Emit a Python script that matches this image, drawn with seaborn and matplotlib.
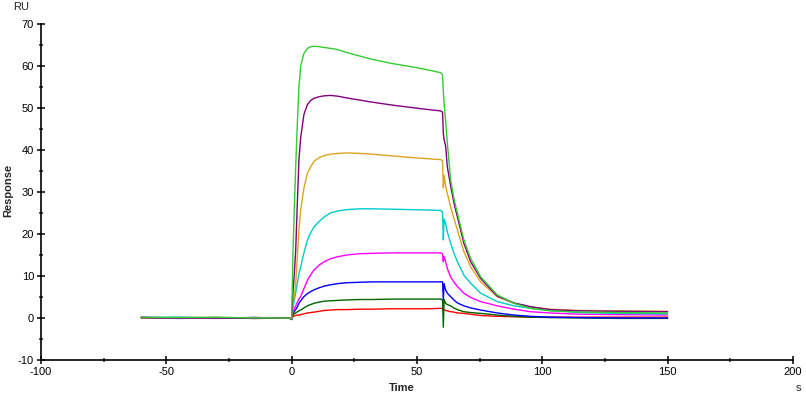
import numpy as np
import pandas as pd
import matplotlib
matplotlib.use("Agg")
import matplotlib.pyplot as plt
import seaborn as sns
from matplotlib.ticker import MultipleLocator

# sample times (s), shared by all curves
time_s = [-60, -45, -30, -15, -1, 0, 0.5, 1, 1.6, 2.3, 2.9, 3.6, 4.9, 6.3, 7.6, 8.9,
          11, 13, 15.5, 18.5, 22, 27, 32, 40, 48, 55, 59.5, 60.2, 60.5, 60.8, 61.4,
          62.1, 63.4, 64.7, 66.1, 68.7, 71.4, 75.4, 82, 88.7, 95.3, 103, 115, 130, 150]

# response (RU) per concentration
red = [0.1, 0.0, 0.1, -0.1, 0.0, -0.3, 0.3, 0.5, 0.6, 0.7, 0.7, 0.8, 1.0, 1.2, 1.3, 1.4,
       1.6, 1.8, 1.9, 2.0, 2.0, 2.1, 2.1, 2.2, 2.2, 2.2, 2.3, 2.2, 1.9, 2.0, 1.8,
       1.7, 1.5, 1.4, 1.2, 1.1, 0.9, 0.6, 0.4, 0.3, 0.2, 0.2, 0.2, 0.2, 0.2]
dark_green = [0.0, 0.1, 0.0, 0.1, 0.0, -0.3, 0.8, 1.0, 1.2, 1.5, 1.7, 1.9, 2.4, 2.9, 3.2, 3.5,
              3.8, 4.0, 4.1, 4.2, 4.3, 4.4, 4.4, 4.5, 4.5, 4.5, 4.5, 4.3, -2.2, 4.4, 3.5,
              3.2, 2.9, 2.4, 2.0, 1.5, 1.3, 1.1, 0.7, 0.4, 0.2, 0.1, 0.0, -0.1, -0.1]
blue = [0.1, -0.1, 0.0, 0.1, 0.0, -0.3, 1.0, 1.5, 2.0, 2.7, 3.5, 4.1, 5.1, 5.8, 6.3, 6.7,
        7.2, 7.6, 7.9, 8.2, 8.4, 8.5, 8.6, 8.6, 8.6, 8.6, 8.6, 8.6, 4.3, 8.2, 6.7,
        5.9, 5.1, 4.3, 3.6, 2.9, 2.4, 1.9, 1.2, 0.7, 0.4, 0.2, 0.1, 0.0, 0.0]
magenta = [0.2, 0.0, -0.1, 0.1, 0.0, -0.3, 1.5, 2.2, 2.8, 3.8, 4.5, 5.1, 7.0, 9.0, 10.3, 11.4,
           12.6, 13.4, 14.1, 14.6, 15.0, 15.3, 15.4, 15.5, 15.5, 15.5, 15.5, 15.3, 13.4, 14.6, 13.5,
           11.8, 9.8, 8.6, 7.5, 5.9, 4.9, 3.9, 2.9, 2.1, 1.5, 1.2, 0.9, 0.8, 0.7]
cyan = [0.1, 0.2, 0.0, 0.0, 0.0, -0.3, 2.5, 4.0, 6.0, 8.5, 10.5, 12.2, 15.5, 18.6, 20.3, 21.7,
        23.0, 24.1, 25.0, 25.5, 25.8, 26.0, 26.0, 25.9, 25.8, 25.7, 25.6, 25.2, 18.6, 23.5, 22.5,
        20.5, 17.8, 15.5, 13.4, 10.2, 8.3, 5.9, 3.9, 2.9, 2.3, 1.8, 1.3, 1.1, 1.0]
orange = [0.0, 0.1, 0.1, 0.0, 0.0, -0.3, 3.0, 5.0, 8.0, 15.0, 21.0, 25.7, 31.0, 34.5, 36.0, 37.3,
          38.2, 38.7, 39.0, 39.2, 39.3, 39.2, 39.0, 38.6, 38.2, 37.9, 37.7, 37.5, 31.0, 34.0, 31.5,
          29.7, 26.5, 23.8, 21.0, 15.8, 12.2, 8.6, 5.1, 3.5, 2.6, 2.1, 1.8, 1.7, 1.6]
purple = [0.1, 0.0, 0.0, -0.1, 0.0, -0.4, 6.0, 10.0, 16.0, 28.0, 37.6, 43.0, 48.5, 50.8, 51.8, 52.3,
          52.7, 52.9, 53.0, 52.8, 52.4, 51.9, 51.4, 50.7, 50.1, 49.6, 49.3, 49.0, 44.0, 42.5, 41.0,
          36.0, 31.5, 27.5, 24.1, 17.8, 13.4, 9.4, 5.2, 3.6, 2.7, 2.0, 1.7, 1.6, 1.5]
green = [0.2, 0.1, 0.2, 0.0, 0.0, -0.3, 15.0, 25.0, 36.0, 47.0, 55.0, 60.0, 63.0, 64.2, 64.6, 64.7,
         64.6, 64.4, 64.2, 63.9, 63.2, 62.4, 61.6, 60.6, 59.8, 59.0, 58.4, 57.8, 54.0, 51.0, 47.0,
         41.6, 33.0, 28.5, 25.0, 18.6, 14.2, 9.8, 5.5, 3.5, 2.3, 1.7, 1.4, 1.3, 1.2]

series = {
    "red": red,
    "dark_green": dark_green,
    "blue": blue,
    "magenta": magenta,
    "cyan": cyan,
    "orange": orange,
    "purple": purple,
    "green": green,
}
palette = {
    "red": "#ff0000",
    "dark_green": "#006400",
    "blue": "#0000ff",
    "magenta": "#ff00ff",
    "cyan": "#00cccc",
    "orange": "#daa520",
    "purple": "#800080",
    "green": "#33cc33",
}

frames = []
for name, vals in series.items():
    frames.append(pd.DataFrame({"Time": time_s, "Response": vals, "curve": name}))
df = pd.concat(frames, ignore_index=True)

sns.set_style("ticks")
plt.rcParams["font.family"] = ["Liberation Sans", "DejaVu Sans"]
plt.rcParams["axes.unicode_minus"] = False

fig = plt.figure(figsize=(8.06, 3.97), dpi=100)
ax = fig.add_axes([41 / 806, 1 - 360 / 397, 752 / 806, 336 / 397])

sns.lineplot(data=df, x="Time", y="Response", hue="curve", palette=palette,
             hue_order=list(series.keys()), estimator=None, sort=False,
             linewidth=1.0, legend=False, ax=ax)

ax.set_xlim(-100, 200)
ax.set_ylim(-10, 70)
ax.xaxis.set_major_locator(MultipleLocator(50))
ax.xaxis.set_minor_locator(MultipleLocator(25))
ax.yaxis.set_major_locator(MultipleLocator(10))
ax.yaxis.set_minor_locator(MultipleLocator(5))
ax.tick_params(which="major", direction="inout", length=6, width=1.1,
               labelsize=8, colors="black", pad=2)
ax.tick_params(which="minor", direction="inout", length=3, width=1.1)
for side in ["top", "right"]:
    ax.spines[side].set_visible(False)
for side in ["left", "bottom"]:
    ax.spines[side].set_linewidth(1.2)
    ax.spines[side].set_color("black")

ax.set_xlabel("")
ax.set_ylabel("")
fig.text(402 / 806, 1 - 388 / 397, "Time", fontsize=8, fontweight="bold",
         ha="center", va="center")
fig.text(8 / 806, 1 - 190 / 397, "Response", fontsize=8, fontweight="bold",
         rotation=90, ha="center", va="center")
fig.text(13 / 806, 1 - 7 / 397, "RU", fontsize=8, ha="left", va="center")
fig.text(798 / 806, 1 - 388 / 397, "s", fontsize=8, ha="center", va="center")

fig.savefig("out.png", dpi=100, facecolor="white")
